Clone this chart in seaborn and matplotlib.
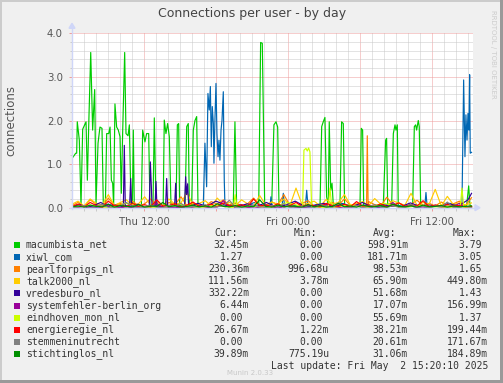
import numpy as np
import pandas as pd
import matplotlib
matplotlib.use("Agg")
import matplotlib.pyplot as plt
import seaborn as sns
from matplotlib.patches import Rectangle, Polygon
from matplotlib.lines import Line2D

# ---------------- data ----------------
series_names = ["macumbista_net", "xiwl_com", "pearlforpigs_nl", "talk2000_nl", "vredesburo_nl",
                "systemfehler-berlin_org", "eindhoven_mon_nl", "energieregie_nl",
                "stemmeninutrecht", "stichtinglos_nl"]
series_colors = ["#00CC00", "#0066B3", "#FF8000", "#FFCC00", "#330099",
                 "#990099", "#CCFF00", "#FF0000", "#808080", "#008F00"]
cur_values = ["32.45m", "1.27", "230.36m", "111.56m", "332.22m", "6.44m", "0.00", "26.67m", "0.00", "39.89m"]
min_values = ["0.00", "0.00", "996.68u", "3.78m", "0.00", "0.00", "0.00", "1.22m", "0.00", "775.19u"]
avg_values = ["598.91m", "181.71m", "98.53m", "65.90m", "51.68m", "17.07m", "55.69m", "38.21m", "20.61m", "31.06m"]
max_values = ["3.79", "3.05", "1.65", "449.80m", "1.43", "156.99m", "1.37", "199.44m", "171.67m", "184.89m"]

title = "Connections per user - by day"
y_label = "connections"
x_tick_hours = [6, 18, 30]                      # hours after Thu 06:00
x_tick_labels = ["Thu 12:00", "Fri 00:00", "Fri 12:00"]
y_ticks = [0, 1, 2, 3, 4]
y_tick_labels = ["0.0", "1.0", "2.0", "3.0", "4.0"]
last_update = "Last update: Fri May  2 15:20:10 2025"
span_hours = 33.42

# macumbista_net
green_hours = [0.0, 0.11, 0.31, 0.39, 0.44, 0.61, 0.75, 0.89, 1.06, 1.17, 1.28, 1.39, 1.56, 1.72, 1.89, 2.0,
               2.17, 2.33, 2.5, 2.61, 2.78, 2.89, 3.06, 3.17, 3.28, 3.39, 3.47, 3.58, 3.72, 3.86, 4.0, 4.11,
               4.22, 4.39, 4.5, 4.67, 4.78, 4.92, 5.03, 5.11, 5.19, 5.5, 5.78, 5.89, 6.08, 6.22, 6.39, 6.5,
               6.75, 6.86, 7.0, 7.5, 7.6, 7.69, 7.83, 7.97, 8.11, 8.25, 8.67, 8.78, 8.89, 8.97, 9.42, 9.56,
               9.69, 9.78, 9.97, 10.11, 10.25, 10.39, 10.5, 11.5, 12.5, 13.44, 13.58, 13.72, 14.5, 15.56,
               15.72, 15.86, 16.06, 16.64, 16.83, 17.0, 17.14, 17.25, 18.0, 19.0, 20.0, 20.67, 20.81, 20.94,
               21.08, 21.22, 21.36, 21.44, 21.56, 21.67, 21.78, 22.33, 22.47, 22.61, 22.72, 23.2, 24.0,
               24.11, 24.22, 24.31, 25.0, 25.94, 26.14, 26.22, 26.31, 26.64, 26.78, 26.92, 27.0, 27.11,
               27.19, 27.8, 28.39, 28.53, 28.64, 28.72, 28.86, 28.94, 29.06, 30.0, 31.0, 32.0, 32.89,
               33.06, 33.17, 33.3]
green_values = [1.13, 1.17, 1.25, 1.25, 1.97, 1.55, 0.05, 1.8, 1.9, 1.97, 0.63, 1.85, 3.56, 1.78, 2.71, 0.08,
                1.48, 1.85, 1.82, 0.05, 0.03, 1.7, 1.7, 1.85, 0.63, 0.56, 0.05, 2.38, 1.85, 1.78, 1.63, 0.33,
                1.7, 3.56, 1.7, 1.65, 1.9, 0.05, 0.03, 1.78, 0.05, 0.03, 0.03, 1.78, 1.51, 1.7, 1.7, 0.05,
                0.03, 2.06, 0.05, 0.03, 0.05, 2.01, 1.7, 1.93, 1.63, 0.05, 0.03, 1.9, 1.93, 0.05, 0.03, 1.86,
                1.93, 0.05, 0.03, 1.78, 2.0, 2.09, 0.05, 0.02, 0.04, 0.03, 1.97, 0.05, 0.02, 0.03,
                3.79, 3.77, 0.05, 0.03, 1.9, 1.97, 1.85, 0.05, 0.02, 0.04, 0.02, 0.03, 1.86, 1.97,
                2.07, 0.25, 0.05, 1.97, 0.4, 0.56, 0.05, 0.03, 1.97, 1.93, 0.05, 0.02, 0.03,
                1.82, 1.78, 0.05, 0.02, 0.03, 1.55, 1.59, 0.05, 0.03, 1.7, 1.9, 1.78, 1.9,
                0.05, 0.02, 0.03, 1.86, 1.9, 1.78, 2.0, 1.86, 0.05, 0.02, 0.04, 0.02, 0.05,
                0.5, 0.05, 0.03]

# xiwl_com
blue_hours = [0, 1.0, 2.0, 3.0, 4.0, 5.0, 6.0, 7.0, 8.0, 9.0, 10.0, 10.94, 11.08, 11.22, 11.33, 11.44, 11.53,
              11.61, 11.69, 11.78, 11.83, 11.92, 12.0, 12.08, 12.17, 12.25, 12.33, 12.42, 12.5, 12.61, 12.69,
              12.75, 13.5, 14.5, 15.2, 16.0, 16.5, 16.58, 16.66, 17.5, 17.61, 17.72, 18.5, 19.45, 19.56,
              19.67, 20.5, 21.5, 22.5, 23.5, 24.5, 25.5, 26.5, 27.5, 28.5, 29.4, 29.5, 29.6, 30.5, 31.5,
              32.5, 32.64, 32.75, 32.83, 32.92, 33.0, 33.08, 33.14, 33.19, 33.3]
blue_values = [0.02, 0.05, 0.01, 0.08, 0.02, 0.04, 0.01, 0.06, 0.02, 0.03, 0.01, 0.02, 1.48, 0.48, 2.62, 2.24,
               2.78, 1.40, 2.32, 1.93, 1.02, 2.09, 2.85, 1.70, 1.17, 1.55, 1.09, 1.78, 2.00, 2.66, 0.63,
               0.02, 0.1, 0.04, 0.12, 0.03, 0.02, 0.25, 0.02, 0.02, 0.33, 0.02, 0.05, 0.02, 0.4,
               0.02, 0.08, 0.03, 0.1, 0.02, 0.06, 0.01, 0.09, 0.03, 0.05, 0.02, 0.35, 0.02, 0.04, 0.1,
               0.02, 2.93, 1.17, 2.13, 1.55, 2.16, 1.78, 3.05, 1.25, 1.27]

# pearlforpigs_nl (half-hour samples plus one tall spike)
orange_values = [0.05, 0.12, 0.03, 0.18, 0.08, 0.02, 0.22, 0.06, 0.10, 0.03, 0.15, 0.04, 0.09, 0.20, 0.05, 0.02,
                 0.12, 0.07, 0.25, 0.04, 0.10, 0.06, 0.03, 0.14, 0.08, 0.18, 0.05, 0.11, 0.03, 0.09, 0.22, 0.06,
                 0.04, 0.13, 0.07, 0.30, 0.05, 0.02, 0.10, 0.16, 0.04, 0.08, 0.03, 0.12, 0.06, 0.20, 0.05, 0.09,
                 0.03, 0.14, 0.07, 0.04, 0.24, 0.06, 0.11, 0.03, 0.08, 0.17, 0.05, 0.10, 0.04, 0.13, 0.06, 0.09,
                 0.15, 0.05, 0.23]
orange_spike_hours = [24.55, 24.61, 24.68]
orange_spike_values = [0.02, 1.65, 0.03]

# talk2000_nl
yellow_values = [0.08, 0.15, 0.04, 0.20, 0.10, 0.06, 0.30, 0.05, 0.12, 0.18, 0.04, 0.09, 0.25, 0.06, 0.14, 0.03,
                 0.20, 0.08, 0.11, 0.35, 0.05, 0.10, 0.16, 0.04, 0.22, 0.07, 0.12, 0.05, 0.18, 0.09, 0.04, 0.28,
                 0.06, 0.13, 0.08, 0.20, 0.05, 0.45, 0.07, 0.10, 0.15, 0.04, 0.19, 0.08, 0.12, 0.30, 0.06, 0.09,
                 0.14, 0.05, 0.21, 0.08, 0.04, 0.16, 0.10, 0.06, 0.33, 0.05, 0.12, 0.08, 0.42, 0.04, 0.26, 0.07,
                 0.11, 0.06, 0.11]

# vredesburo_nl
purple_hours = [0, 0.6, 1.2, 1.8, 2.4, 3.0, 3.6, 4.28, 4.36, 4.44, 4.8, 4.89, 4.97, 5.5, 6.0, 6.44, 6.53, 6.61,
                6.67, 6.92, 7.0, 7.08, 7.8, 7.89, 7.97, 8.55, 8.64, 8.72, 9.38, 9.47, 9.55, 9.64, 9.72, 10.5,
                11.2, 12.0, 13.0, 13.8, 14.6, 15.4, 16.2, 17.0, 17.8, 18.6, 19.4, 20.2, 21.0, 21.8, 22.6, 23.4,
                24.2, 25.0, 25.8, 26.6, 27.4, 28.2, 29.0, 29.8, 30.6, 31.4, 32.2, 33.0, 33.3]
purple_values = [0.02, 0.08, 0.01, 0.05, 0.12, 0.02, 0.06, 0.02, 1.43, 0.05, 0.02, 0.67, 0.03, 0.08, 0.02, 0.02,
                 1.05, 0.5, 0.02, 0.02, 0.6, 0.02, 0.02, 0.67, 0.02, 0.02, 0.56, 0.02, 0.02, 0.71, 0.3, 0.55,
                 0.02, 0.1, 0.03, 0.15, 0.04, 0.02, 0.09, 0.03, 0.12, 0.02, 0.06, 0.15, 0.03, 0.05, 0.1, 0.02,
                 0.08, 0.03, 0.12, 0.02, 0.07, 0.04, 0.02, 0.11, 0.03, 0.06, 0.02, 0.09, 0.04, 0.18, 0.33]

# systemfehler-berlin_org
magenta_values = [0.00, 0.01, 0.03, 0.00, 0.02, 0.00, 0.06, 0.01, 0.00, 0.02, 0.00, 0.04, 0.01, 0.00, 0.10, 0.00,
                  0.02, 0.01, 0.00, 0.03, 0.00, 0.05, 0.01, 0.00, 0.02, 0.16, 0.00, 0.01, 0.03, 0.00, 0.02, 0.00,
                  0.07, 0.01, 0.00, 0.02, 0.04, 0.00, 0.01, 0.00, 0.03, 0.00, 0.09, 0.01, 0.00, 0.02, 0.00, 0.05,
                  0.01, 0.00, 0.03, 0.00, 0.02, 0.12, 0.00, 0.01, 0.04, 0.00, 0.02, 0.00, 0.06, 0.01, 0.00, 0.03,
                  0.10, 0.01, 0.01]

# eindhoven_mon_nl
lime_hours = [0, 1.5, 3.0, 4.5, 6.0, 7.5, 9.0, 10.5, 12.0, 13.45, 13.6, 13.75, 15.0, 16.5, 18.0, 19.22, 19.33,
              19.5, 19.61, 19.72, 19.83, 19.97, 21.35, 21.5, 21.65, 23.0, 24.5, 26.0, 27.5, 29.0, 30.5, 32.35,
              32.5, 32.65, 33.3]
lime_values = [0.01, 0.06, 0.0, 0.1, 0.02, 0.0, 0.08, 0.0, 0.05, 0.0, 0.3, 0.0, 0.04, 0.0, 0.12, 0.02, 1.32,
               1.36, 1.30, 1.37, 1.28, 0.02, 0.0, 0.45, 0.0, 0.06, 0.0, 0.1, 0.0, 0.05, 0.02, 0.0,
               0.45, 0.0, 0.0]

# energieregie_nl
red_values = [0.03, 0.08, 0.02, 0.12, 0.05, 0.01, 0.15, 0.04, 0.06, 0.02, 0.10, 0.03, 0.07, 0.02, 0.18, 0.04,
              0.05, 0.09, 0.02, 0.06, 0.13, 0.03, 0.04, 0.08, 0.02, 0.11, 0.05, 0.03, 0.07, 0.02, 0.20, 0.04,
              0.06, 0.03, 0.09, 0.02, 0.05, 0.12, 0.03, 0.07, 0.04, 0.02, 0.10, 0.05, 0.03, 0.08, 0.02, 0.14,
              0.04, 0.06, 0.03, 0.09, 0.02, 0.05, 0.11, 0.03, 0.07, 0.04, 0.16, 0.02, 0.06, 0.03, 0.08, 0.04,
              0.05, 0.02, 0.03]

# stemmeninutrecht
gray_values = [0.00, 0.02, 0.05, 0.00, 0.03, 0.08, 0.01, 0.00, 0.04, 0.12, 0.02, 0.00, 0.03, 0.06, 0.01, 0.00,
               0.05, 0.02, 0.10, 0.00, 0.03, 0.01, 0.07, 0.00, 0.02, 0.04, 0.17, 0.01, 0.00, 0.03, 0.06, 0.02,
               0.00, 0.05, 0.01, 0.09, 0.00, 0.02, 0.04, 0.01, 0.00, 0.06, 0.03, 0.00, 0.11, 0.02, 0.01, 0.04,
               0.00, 0.03, 0.07, 0.01, 0.00, 0.05, 0.02, 0.00, 0.08, 0.01, 0.03, 0.00, 0.04, 0.02, 0.13, 0.00,
               0.01, 0.03, 0.00]

# stichtinglos_nl
dkgreen_values = [0.02, 0.04, 0.01, 0.06, 0.03, 0.02, 0.08, 0.01, 0.05, 0.03, 0.02, 0.07, 0.01, 0.04, 0.03, 0.12,
                  0.02, 0.05, 0.01, 0.03, 0.06, 0.02, 0.04, 0.01, 0.09, 0.03, 0.02, 0.05, 0.01, 0.04, 0.02, 0.18,
                  0.03, 0.01, 0.06, 0.02, 0.04, 0.03, 0.01, 0.07, 0.02, 0.05, 0.01, 0.03, 0.10, 0.02, 0.04, 0.01,
                  0.06, 0.03, 0.02, 0.05, 0.01, 0.08, 0.03, 0.02, 0.04, 0.01, 0.06, 0.02, 0.03, 0.05, 0.01, 0.04,
                  0.02, 0.03, 0.04]

# ---------------- build table ----------------
def sampled(vals):
    return list(np.linspace(0, 33.3, len(vals)))

all_hours = [green_hours, blue_hours, sampled(orange_values) + orange_spike_hours, sampled(yellow_values),
             purple_hours, sampled(magenta_values), lime_hours, sampled(red_values),
             sampled(gray_values), sampled(dkgreen_values)]
all_values = [green_values, blue_values, orange_values + orange_spike_values, yellow_values,
              purple_values, magenta_values, lime_values, red_values, gray_values, dkgreen_values]

frames = []
for name, hrs, vals in zip(series_names, all_hours, all_values):
    frames.append(pd.DataFrame({"hour": hrs, "value": vals, "user": name}))
df = pd.concat(frames, ignore_index=True)

# ---------------- figure ----------------
W, H = 503, 383
BG = "#F0F0F0"
TXT = "#333333"
fig = plt.figure(figsize=(W / 100, H / 100), dpi=100, facecolor=BG)

def fx(x):
    return x / W

def fy(y):
    return 1 - y / H

ax_left, ax_right, ax_top, ax_bottom = 72, 473, 33.3, 207.7
ax = fig.add_axes([fx(ax_left), fy(ax_bottom), (ax_right - ax_left) / W, (ax_bottom - ax_top) / H])
ax.set_facecolor("white")

sns.lineplot(data=df, x="hour", y="value", hue="user", hue_order=series_names,
             palette=series_colors, estimator=None, sort=True, linewidth=0.85,
             legend=False, ax=ax)

ax.set_xlim(0, span_hours)
ax.set_ylim(0, 4.0)
ax.set_xlabel("")
ax.set_ylabel("")

major_x = [6, 12, 18, 24, 30]
ax.set_xticks(major_x)
ax.set_xticklabels([x_tick_labels[x_tick_hours.index(h)] if h in x_tick_hours else "" for h in major_x])
ax.set_xticks(np.arange(1, 34, 1), minor=True)
ax.set_yticks(y_ticks)
ax.set_yticklabels(y_tick_labels)
ax.set_yticks(np.arange(0.2, 4.0, 0.2), minor=True)

dot = (0, (1, 1))
ax.grid(True, which="minor", color="#c8c8c8", linestyle=dot, linewidth=0.72)
ax.grid(True, which="major", color="#ee9c9c", linestyle=dot, linewidth=0.72)
ax.set_axisbelow(True)

ax.tick_params(which="major", length=2.5, width=0.7, color="#ee9c9c", labelsize=7.3,
               labelcolor="#555555", pad=4)
ax.tick_params(which="minor", length=1.8, width=0.7, color="#c8c8c8")
for s in ax.spines.values():
    s.set_visible(False)

# axis lines with arrows (rrdtool style)
AX = "#CFD6F8"
fig.add_artist(Line2D([fx(ax_left), fx(ax_left)], [fy(ax_bottom + 1), fy(ax_top - 6)], color=AX, lw=1.0))
fig.add_artist(Line2D([fx(ax_left - 2), fx(ax_right + 4)], [fy(ax_bottom), fy(ax_bottom)], color=AX, lw=1.0))
fig.add_artist(Polygon([[fx(ax_left - 3), fy(ax_top - 5)], [fx(ax_left + 3), fy(ax_top - 5)],
                        [fx(ax_left), fy(ax_top - 10)]], closed=True, color=AX, transform=fig.transFigure))
fig.add_artist(Polygon([[fx(ax_right + 2), fy(ax_bottom - 3)], [fx(ax_right + 2), fy(ax_bottom + 3)],
                        [fx(ax_right + 7), fy(ax_bottom)]], closed=True, color=AX, transform=fig.transFigure))

# titles
fig.text(fx(252), fy(13), title, ha="center", va="center", fontsize=9, color="#444444")
fig.text(fx(11), fy(121), y_label, ha="center", va="center", rotation=90, fontsize=8.5, color="#555555")
fig.text(fx(493), fy(54), "RRDTOOL / TOBI OETIKER", ha="center", va="center", rotation=270,
         fontsize=5.0, color="#cccccc")

# legend
MONO = "DejaVu Sans Mono"
FS = 7
cw = 0.602 * FS / 72 * 100
col_right = [249, 329, 408, 488]
headers = ["Cur:", "Min:", "Avg:", "Max:"]
header_center = [226, 305, 385, 464]
for hx, htxt in zip(header_center, headers):
    fig.text(fx(hx), fy(233), htxt, ha="center", va="center", family=MONO, fontsize=FS, color=TXT)

columns = [cur_values, min_values, avg_values, max_values]
for i, (name, col) in enumerate(zip(series_names, series_colors)):
    y = 245 + i * 12.1
    fig.add_artist(Rectangle((fx(14), fy(y + 3)), 6 / W, 6 / H, transform=fig.transFigure,
                             facecolor=col, edgecolor="none"))
    fig.text(fx(26), fy(y), name, ha="left", va="center", family=MONO, fontsize=FS, color=TXT)
    for r, vals in zip(col_right, columns):
        v = vals[i]
        xr = r if v[-1].isalpha() else r - cw
        fig.text(fx(xr), fy(y), v, ha="right", va="center", family=MONO, fontsize=FS, color=TXT)

fig.text(fx(227), fy(373), "Munin 2.0.33", ha="left", va="center", fontsize=5.0, color="#c8c8c8")
fig.text(fx(488), fy(365.7), last_update, ha="right", va="center", family=MONO, fontsize=FS, color=TXT)

# frame
fig.add_artist(Rectangle((0, fy(2)), 1, 2 / H, transform=fig.transFigure, facecolor="#CCCCCC", edgecolor="none"))
fig.add_artist(Rectangle((0, 0), 2 / W, 1, transform=fig.transFigure, facecolor="#CCCCCC", edgecolor="none"))
fig.add_artist(Rectangle((fx(500), 0), 3 / W, 1, transform=fig.transFigure, facecolor="#999999", edgecolor="none"))
fig.add_artist(Rectangle((0, 0), 1, 3 / H, transform=fig.transFigure, facecolor="#999999", edgecolor="none"))

fig.savefig("out.png", dpi=100, facecolor=BG)
